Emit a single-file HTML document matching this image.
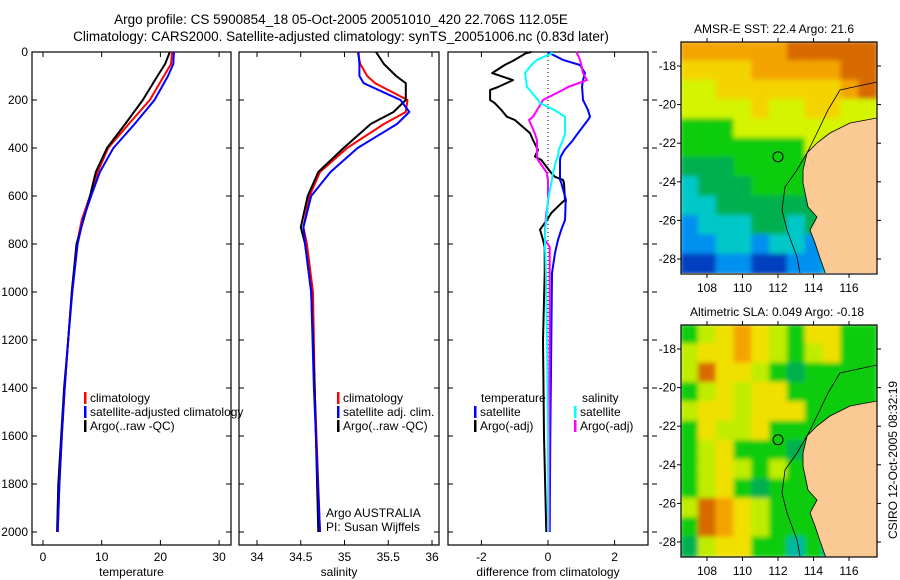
<!DOCTYPE html>
<html><head><meta charset="utf-8"><style>
body{margin:0;background:#fff;}
svg{display:block;font-family:"Liberation Sans",sans-serif;}
</style></head><body>
<svg id="fig" width="900" height="580" viewBox="0 0 900 580">
<defs>
<clipPath id="clipA"><rect x="681" y="42" width="196" height="231"/></clipPath>
<clipPath id="clipB"><rect x="681" y="325" width="196" height="232"/></clipPath>
<filter id="soft" x="0" y="0" width="1" height="1"><feGaussianBlur stdDeviation="2.5"/></filter>
</defs>
<text x="341" y="24" font-size="13.5" text-anchor="middle">Argo profile: CS 5900854_18 05-Oct-2005 20051010_420 22.706S 112.05E</text>
<text x="341" y="41" font-size="13.5" text-anchor="middle">Climatology: CARS2000. Satellite-adjusted climatology: synTS_20051006.nc (0.83d later)</text>
<text x="774" y="33" font-size="12" text-anchor="middle">AMSR-E SST: 22.4 Argo: 21.6</text>
<text x="777" y="316" font-size="12" text-anchor="middle">Altimetric SLA: 0.049 Argo: -0.18</text>
<text transform="translate(897,460) rotate(-90)" font-size="12" text-anchor="middle">CSIRO 12-Oct-2005 08:32:19</text>
</svg>
<script>
// ---- data ----
const depthT = [0,50,100,200,300,400,500,600,700,800,1000,1200,1400,1600,1800,2000];
const tempClim = [22.0,21.8,20.6,18.2,14.6,11.1,9.3,8.0,6.6,5.8,4.9,4.3,3.7,3.2,2.8,2.5];
const tempSat  = [22.3,22.2,21.3,19.0,15.6,12.0,9.7,8.2,6.8,5.9,5.0,4.3,3.7,3.2,2.8,2.5];
const tempArgo = [21.6,20.8,19.5,17.0,14.0,10.9,9.0,8.0,6.9,5.7,4.9,4.3,3.6,3.1,2.6,2.4];
const depthS = [0,50,100,130,200,250,300,400,500,600,730,800,1000,1400,2000];
const salClim = [35.15,35.18,35.26,35.35,35.72,35.70,35.45,35.03,34.72,34.60,34.53,34.57,34.64,34.66,34.72];
const salSat  = [35.16,35.17,35.17,35.22,35.64,35.74,35.60,35.15,34.84,34.62,34.53,34.55,34.62,34.65,34.72];
const salArgo = [35.36,35.45,35.59,35.70,35.70,35.56,35.30,34.99,34.70,34.58,34.50,34.55,34.62,34.66,34.70];
const depthD = [0,5,33,54,88,117,146,158,200,213,242,270,283,338,367,408,436,450,504,520,533,546,617,630,671,700,740,783,813,838,921,1200,1600,2000];
const dTempSat  = [0,0.05,0.45,0.96,1.11,1.05,1.02,1.03,1.05,1.1,1.2,1.26,1.2,0.9,0.75,0.5,0.38,0.36,0.36,0.36,0.36,0.4,0.54,0.53,0.52,0.51,0.4,0.3,0.25,0.21,0.12,0.1,0.07,0.05];
const dTempArgo = [-0.5,-0.66,-1.0,-1.3,-1.68,-1.05,-1.5,-1.74,-1.74,-1.6,-1.4,-1.23,-1.0,-0.54,-0.45,-0.3,-0.39,-0.2,0.1,0.21,0.45,0.48,0.51,0.4,0.1,-0.03,-0.24,-0.15,-0.1,-0.1,-0.1,-0.15,-0.12,-0.05];
const dSalSat  = [0.1,0.12,-0.33,-0.5,-0.69,-0.66,-0.63,-0.55,-0.3,-0.24,0.2,0.51,0.51,0.51,0.45,0.32,0.3,0.25,0.15,0.13,0.12,0.1,0.0,-0.01,-0.03,-0.05,-0.08,-0.09,-0.09,-0.08,-0.06,-0.03,0,0];
const dSalArgo = [0.85,0.87,0.96,1.0,1.05,1.17,0.6,0.45,-0.15,-0.2,-0.33,-0.45,-0.57,-0.4,-0.33,-0.33,-0.33,-0.3,-0.03,-0.02,0,0,0,0,-0.05,-0.07,-0.09,-0.09,0.05,0.05,0.05,0.05,0.04,0.03];
const yTicks = [0,200,400,600,800,1000,1200,1400,1600,1800,2000];
const tTicks = [0,10,20,30];
const sTicks = [34,34.5,35,35.5,36];
const dTicks = [-2,0,2];
const lonTicks = [108,110,112,114,116];
const latTicks = [-18,-20,-22,-24,-26,-28];

const NS='http://www.w3.org/2000/svg';
const svg=document.getElementById('fig');
function mk(tag,attrs,parent){const e=document.createElementNS(NS,tag);for(const k in attrs)e.setAttribute(k,attrs[k]);(parent||svg).appendChild(e);return e;}
const Y0=52,Y1=545;
function yD(d){return 52+d*0.24;}

function panel(name,x0,x1,xs,ticks,label,labelFmt,showY){
  const g=mk('g',{});
  
  
  mk('rect',{x:x0,y:Y0,width:x1-x0,height:Y1-Y0,fill:'none',stroke:'#000','stroke-width':1.2},g);
  ticks.forEach(t=>{const x=xs(t);
    mk('line',{x1:x,x2:x,y1:Y0,y2:Y0+5,stroke:'#000'},g);
    mk('line',{x1:x,x2:x,y1:Y1,y2:Y1-5,stroke:'#000'},g);
    const tx=mk('text',{x:x,y:Y1+16,'font-size':12,'text-anchor':'middle'},g);tx.textContent=labelFmt(t);
    
    });
  yTicks.forEach(d=>{const y=yD(d);
    mk('line',{x1:x0,x2:x0+5,y1:y,y2:y,stroke:'#000'},g);
    mk('line',{x1:x1,x2:x1-5,y1:y,y2:y,stroke:'#000'},g);
    if(showY){const tx=mk('text',{x:28,y:y+4,'font-size':12,'text-anchor':'end'},g);tx.textContent=d;
      
      }});
  const lb=mk('text',{x:(x0+x1)/2,y:576,'font-size':12,'text-anchor':'middle'},g);lb.textContent=label;
  
  
  return g;
}
function line(g,xs,vals,depths,color,name){
  const pts=vals.map((v,i)=>xs(v).toFixed(1)+','+yD(depths[i]).toFixed(1)).join(' ');
  const p=mk('polyline',{points:pts,fill:'none',stroke:color,'stroke-width':2,'stroke-linejoin':'round'},g);
  
  
}
function legend(g,x,y,color,text,name){
  mk('rect',{x:x,y:y-10,width:2.5,height:12,fill:color},g);
  const t=mk('text',{x:x+6,y:y,'font-size':12},g);t.textContent=text;
  
  
}
// panel 1
const xT=v=>43+v*5.87;
const g1=panel('temperature',32,231,xT,tTicks,'temperature',v=>v,true);
line(g1,xT,tempClim,depthT,'#ff0000','temp-climatology-line');
line(g1,xT,tempArgo,depthT,'#000000','temp-argo-line');
line(g1,xT,tempSat,depthT,'#0000ff','temp-satellite-line');
legend(g1,84,402,'#ff0000','climatology','legend-climatology');
legend(g1,84,416,'#0000ff','satellite-adjusted climatology','legend-satellite-adjusted');
legend(g1,84,430,'#000000','Argo(..raw -QC)','legend-argo');
// panel 2
const xS=v=>257+(v-34)*87.5;
const g2=panel('salinity',239,439,xS,sTicks,'salinity',v=>v,false);
line(g2,xS,salClim,depthS,'#ff0000','sal-climatology-line');
line(g2,xS,salArgo,depthS,'#000000','sal-argo-line');
line(g2,xS,salSat,depthS,'#0000ff','sal-satellite-line');
legend(g2,337,402,'#ff0000','climatology','legend-sal-climatology');
legend(g2,337,416,'#0000ff','satellite adj. clim.','legend-sal-satellite');
legend(g2,337,430,'#000000','Argo(..raw -QC)','legend-sal-argo');
let t1=mk('text',{x:326,y:517,'font-size':12},g2);t1.textContent='Argo AUSTRALIA';


let t2=mk('text',{x:326,y:531,'font-size':12},g2);t2.textContent='PI: Susan Wijffels';


// panel 3
const xDf=v=>548+v*33.3;
const g3=panel('difference',448,648,xDf,dTicks,'difference from climatology',v=>v,false);
mk('line',{x1:xDf(0),x2:xDf(0),y1:Y0,y2:yD(2000),stroke:'#000','stroke-dasharray':'1,3'},g3);
line(g3,xDf,dTempArgo,depthD,'#000000','diff-temp-argo-line');
line(g3,xDf,dTempSat,depthD,'#0000ff','diff-temp-satellite-line');
line(g3,xDf,dSalArgo,depthD,'#ff00ff','diff-sal-argo-line');
line(g3,xDf,dSalSat,depthD,'#00ffff','diff-sal-satellite-line');
yTicks.forEach(d=>mk('line',{x1:652,x2:657,y1:yD(d),y2:yD(d),stroke:'#000'},g3));
let h1=mk('text',{x:481,y:402,'font-size':12},g3);h1.textContent='temperature';


let h2=mk('text',{x:582,y:402,'font-size':12},g3);h2.textContent='salinity';


legend(g3,474,416,'#0000ff','satellite','legend-diff-temp-satellite');
legend(g3,474,430,'#000000','Argo(-adj)','legend-diff-temp-argo');
legend(g3,574,416,'#00ffff','satellite','legend-diff-sal-satellite');
legend(g3,574,430,'#ff00ff','Argo(-adj)','legend-diff-sal-argo');

// ---- maps ----
const pal={o:'#f4a400',O:'#d86a00',y:'#f4d400',l:'#d4f400',g:'#10cc10',G:'#00b050',c:'#00c8c8',b:'#0090f0',B:'#0040c0',Y:'#f0e000',L:'#c0ec00',t:'#00b8a0',r:'#f08800'};
const sstGrid=['ooooooOOOOO','yyyyoooooOO','llyyyyyyyoO','llllyllyyll','gggllllllll','ggggggglggg','GGGggggggGg','cGGGgggGGGG','ccGGGGGGccc','bcccGGcGccc','bbccbccbccc','BBbbBBbbccc'];
const slaGrid=['gLYoYLgYYgg','LYYoYLgLYgg','LOYYLgGgggg','gLYLYYggggg','LYYLYYYgggg','gYLLYgggggg','gLYgggGgggg','gLYLgLggggg','gLYgGgggggg','LOoYLgggggg','gOoYLgggGgg','GLYYggtgttg'];
function map(name,top,grid,clip){
  const g=mk('g',{});
  
  
  const lx=v=>707+(v-108)*17.75;
  const cw=196/11,ch=232/12;
  const inner=mk('g',{'clip-path':'url(#'+clip+')'},g);
  const blur=mk('g',{filter:'url(#soft)'},inner);
  grid.forEach((row,r)=>row.split('').forEach((c,k)=>mk('rect',{x:681+k*cw-1,y:top+r*ch-1,width:cw+2,height:ch+2,fill:pal[c]},blur)));
  const off=top-42;
  const land=[[877,118+off],[850,123+off],[830,133+off],[817,143+off],[807,153+off],[803,170+off],[803,183+off],[808,207+off],[817,217+off],[810,230+off],[815,243+off],[820,258+off],[826,275+off],[877,275+off]];
  const lp=mk('polygon',{points:land.map(p=>p.join(',')).join(' '),fill:'#fbc994',stroke:'#000','stroke-width':0.8},inner);
  
  
  const iso=[[877,82],[840,90],[828,110],[817,133],[807,153],[797,170],[785,187],[782,210],[787,230],[797,257],[800,273]];
  mk('polyline',{points:iso.map(p=>p[0]+','+(p[1]+off)).join(' '),fill:'none',stroke:'#000','stroke-width':0.8},inner);
  const circ=mk('circle',{cx:lx(112),cy:top+24+4.7*19.3,r:5,fill:'none',stroke:'#000'},g);
  
  
  mk('rect',{x:681,y:top,width:196,height:232,fill:'none',stroke:'#000','stroke-width':1.2},g);
  lonTicks.forEach(v=>{const x=lx(v);
    mk('line',{x1:x,x2:x,y1:top,y2:top-4,stroke:'#000'},g);
    mk('line',{x1:x,x2:x,y1:top+232,y2:top+236,stroke:'#000'},g);
    const t=mk('text',{x:x,y:top+250,'font-size':12,'text-anchor':'middle'},g);t.textContent=v;
    
    });
  latTicks.forEach(v=>{const y=top+24+(-18-v)*19.3;
    mk('line',{x1:681,x2:677,y1:y,y2:y,stroke:'#000'},g);
    mk('line',{x1:877,x2:881,y1:y,y2:y,stroke:'#000'},g);
    const t=mk('text',{x:676,y:y+4,'font-size':12,'text-anchor':'end'},g);t.textContent=v;
    
    });
}
map('sst-map',42,sstGrid,'clipA');
map('sla-map',325,slaGrid,'clipB');
</script>
</body></html>
